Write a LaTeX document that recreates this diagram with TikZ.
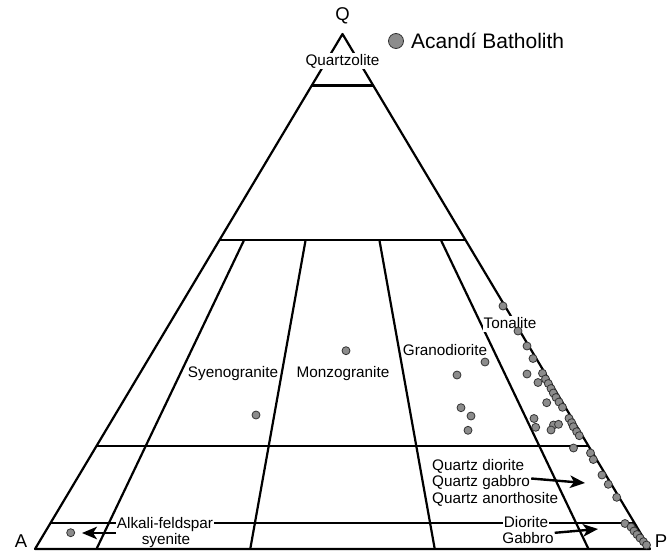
\documentclass[tikz,border=0pt]{standalone}
\usepackage{fontspec}
\setmainfont{Liberation Sans}
\usetikzlibrary{calc,arrows.meta}
\begin{document}
\begin{tikzpicture}[x=1pt,y=-1pt,
  field/.style={line width=2.2pt},
  lbl/.style={font=\fontsize{15.3}{17}\selectfont, inner sep=1pt, text height=11pt, text depth=3pt},
  apex/.style={font=\fontsize{18.5}{20}\selectfont, inner sep=0pt},
  sample/.style={circle, draw=black!80, fill=black!45, line width=0.8pt, inner sep=0pt, minimum size=8pt},
  arr/.style={line width=2.4pt, -{Stealth[length=15pt,width=12.5pt,inset=4pt]}}
]
\useasboundingbox (0,0) rectangle (672,552);

% corners of the QAP triangle
\coordinate (A) at (35,549);
\coordinate (P) at (650,549);
\coordinate (Q) at (342.5,34);

% outer triangle
\draw[field, line join=round] (A) -- (P) -- (Q) -- cycle;
% lines of constant Q (90, 60, 20, 5 %)
\foreach \q in {0.9,0.6,0.2,0.05}
  \draw[field] ($(A)!\q!(Q)$) -- ($(P)!\q!(Q)$);
% lines of constant P/(A+P) (10, 35, 65, 90 %) below Q = 60
\foreach \r in {0.1,0.35,0.65,0.9}
  \draw[field] ($(A)!\r!(P)$) -- ($(A)!\r!(P)!0.6!(Q)$);

% vertex letters
\node[apex] (qv) at (342.5,16) {Q};
\node[apex] (av) at (21,541) {A};
\node[apex] (pv) at (661,541) {P};

% field names
\node[lbl, fill=white] (qzl) at (342.5,61) {Quartzolite};
\node[lbl, fill=white] (syg) at (233,373) {Syenogranite};
\node[lbl, fill=white] (mzg) at (343,373) {Monzogranite};
\node[lbl, fill=white] (gdr) at (445,351) {Granodiorite};
\node[lbl, fill=white] (ton) at (510,324) {Tonalite};
\node[lbl, fill=white] (afs) at (165,524) {Alkali-feldspar};
\node[lbl] (sye) at (166,540) {syenite};
\node[lbl, anchor=west] (qd) at (431,466) {Quartz diorite};
\node[lbl, anchor=west] (qg) at (431,482.5) {Quartz gabbro};
\node[lbl, anchor=west] (qa) at (431,499) {Quartz anorthosite};
\node[lbl, fill=white] (dio) at (526,523) {Diorite};
\node[lbl] (gab) at (528,539) {Gabbro};

% arrows from names to small fields
\coordinate (afsTip) at (82,533);
\draw[arr] (afsTip -| afs.west) -- (afsTip);
\coordinate (qgTip) at (585,483);
\draw[arr] ([yshift=4pt]qg.east) -- (qgTip);
\coordinate (gabTip) at (598,529);
\draw[arr] ([yshift=-2pt]gab.north east) -- (gabTip);

% samples
\foreach \x/\y [count=\i] in {
  503/306, 518/331, 527/346, 533/358.5, 485/362, 457/375, 527/374,
  542.5/373.3, 545.5/379, 548.3/383.5, 538/382.5, 551/388.5, 553.3/393,
  556/397.5, 559/402, 546.7/402.7, 562.5/407.3, 461/407.7, 471/416,
  468/430.3, 534/418.5, 569/418.3, 571.7/422.7, 553.5/425, 558.5/424.3,
  535.7/427.3, 573.3/426.7, 551/430, 576.7/431.7, 579.3/435.7,
  573.5/448, 590.5/453, 593.3/459.5, 602/475, 608.3/484.3, 616.7/497.3,
  625/523.5, 631/527, 634/531, 637/534.5, 640/538, 643.5/541.7, 646.5/545,
  346/350.7, 256/415, 70.7/532.7}
  \node[sample] (s\i) at (\x,\y) {};

% legend
\node[sample, minimum size=15pt] (leg) at (396,41) {};
\node[font=\fontsize{21}{23}\selectfont, anchor=west, inner sep=0pt] (legt) at (411,41) {Acandí Batholith};
\end{tikzpicture}
\end{document}
